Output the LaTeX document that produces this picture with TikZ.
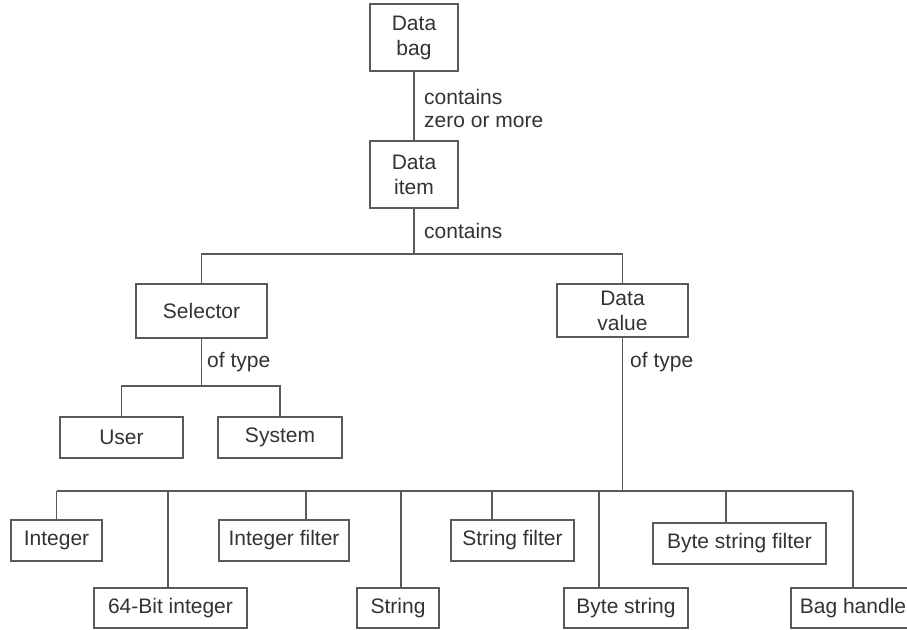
\documentclass[tikz,border=0pt]{standalone}
\usepackage{fontspec}
\setmainfont{Liberation Sans}
\definecolor{linegray}{HTML}{5A5A5A}
\definecolor{textgray}{HTML}{333333}
\begin{document}
\begin{tikzpicture}[x=1pt,y=-1pt,
  box/.style={draw=linegray, line width=1.5pt, inner sep=0pt, align=center, text=textgray, font=\fontsize{21}{25}\selectfont},
  lbl/.style={inner sep=0pt, text=textgray, font=\fontsize{21}{23}\selectfont, align=left},
  conn/.style={draw=linegray, line width=1.4pt}]
\useasboundingbox (0,0) rectangle (907,629);
\clip (0,0) rectangle (907,629);
\fill[white] (0,0) rectangle (907,629);

% boxes
\node[box, minimum width=88pt, minimum height=67pt] (bag) at (414,37.5) {Data\\bag};
\node[box, minimum width=88pt, minimum height=67pt] (item) at (414,174.5) {Data\\item};
\node[box, minimum width=131pt, minimum height=54pt] (sel) at (201.5,311) {Selector};
\node[box, minimum width=131pt, minimum height=53pt] (val) at (622.5,310.5) {Data\\value};
\node[box, minimum width=123pt, minimum height=41pt] (user) at (121.5,437.5) {User};
\node[box, minimum width=124pt, minimum height=41pt] (sys) at (280,437.5) {System};
\node[box, minimum width=91pt, minimum height=41pt] (int) at (56.5,540.5) {Integer};
\node[box, minimum width=153pt, minimum height=40pt] (int64) at (170.5,608) {64-Bit integer};
\node[box, minimum width=130pt, minimum height=41pt] (intf) at (284,540.5) {Integer filter};
\node[box, minimum width=82pt, minimum height=40pt] (str) at (398,608) {String};
\node[box, minimum width=123pt, minimum height=41pt] (strf) at (512.5,540.5) {String filter};
\node[box, minimum width=124pt, minimum height=40pt] (bs) at (626,608) {Byte string};
\node[box, minimum width=173pt, minimum height=41pt] (bsf) at (739.5,543.5) {Byte string filter};
\node[box, minimum width=124pt, minimum height=40pt] (bh) at (853,608) {Bag handle};

% labels
\node[lbl, anchor=west] (l1) at (424,108) {contains\\zero or more};
\node[lbl, anchor=west] (l2) at (424,231) {contains};
\node[lbl, anchor=west] (l3) at (207,362) {of type};
\node[lbl, anchor=west] (l4) at (630,362) {of type};

% junctions
\coordinate (jTop) at (414,254);
\coordinate (jSel) at (201.5,386);
\coordinate (jVal) at (622.5,491);
\coordinate (c1) at (56.5,491);
\coordinate (c2) at (168,491);
\coordinate (c3) at (306,491);
\coordinate (c4) at (401,491);
\coordinate (c5) at (492,491);
\coordinate (c6) at (599,491);
\coordinate (c7) at (726,491);
\coordinate (c8) at (853,491);

% connectors
\draw[conn] (bag) -- (item);
\draw[conn] (item.south) -- (jTop);
\draw[conn] (sel.north) -- (sel.north |- jTop) -- (val.north |- jTop) -- (val.north);
\draw[conn] (sel.south) -- (jSel);
\draw[conn] (user.north) -- (user.north |- jSel) -- (sys.north |- jSel) -- (sys.north);
\draw[conn] (val.south) -- (jVal);
\draw[conn] (c1) -- (c8);
\draw[conn] (c1) -- (int.north);
\draw[conn] (c2) -- (c2 |- int64.north);
\draw[conn] (c3) -- (c3 |- intf.north);
\draw[conn] (c4) -- (c4 |- str.north);
\draw[conn] (c5) -- (c5 |- strf.north);
\draw[conn] (c6) -- (c6 |- bs.north);
\draw[conn] (c7) -- (c7 |- bsf.north);
\draw[conn] (c8) -- (bh.north);
\end{tikzpicture}
\end{document}
